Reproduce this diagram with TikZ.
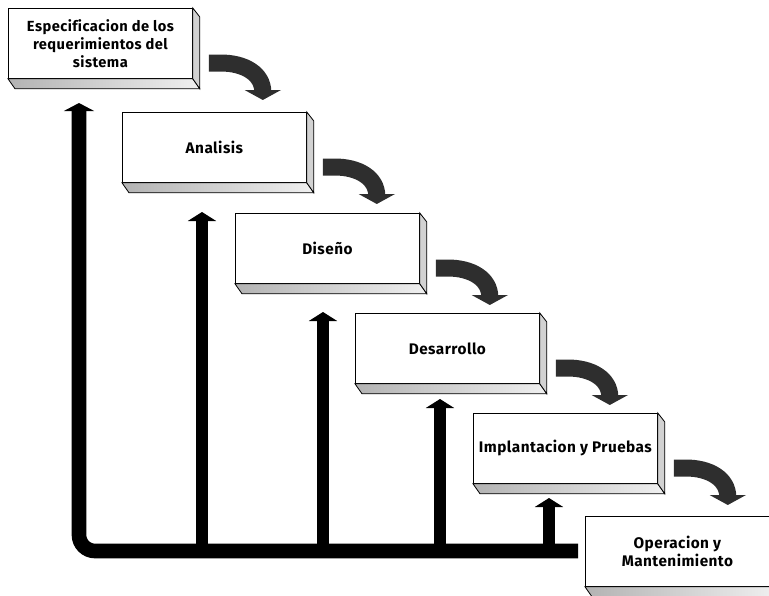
\documentclass[tikz,border=0pt]{standalone}
\usepackage{fontspec}
\setmainfont{Fira Sans}[Ligatures=CommonOff, LetterSpace=3]
\usetikzlibrary{arrows.meta,calc}
\tikzset{
  font=\bfseries\fontsize{11.5}{13}\selectfont,
  stage/.style={
    draw,
    fill=white,
    line width=0.6pt,
    align=center,
    anchor=north west,
    minimum width=138pt,
    minimum height=52.5pt,
    inner sep=2pt
  },
  bottomface/.style={draw, line width=0.6pt, left color=gray!60, right color=gray!12},
  sideface/.style={draw, line width=0.6pt, fill=gray!35},
  flow/.style={line width=12.75pt, draw=black!82, -{Triangle[width=27pt,length=7.5pt]}},
  back/.style={line width=9pt, -{Triangle[width=21pt,length=6.75pt]}},
  mainback/.style={line width=11pt, rounded corners=12pt, -{Triangle[width=22.5pt,length=6pt]}}
}

\begin{document}
\begin{tikzpicture}[x=0.75pt, y=-0.75pt]
\clip (0,0) rectangle (769,596);

% --- Stages (front faces)
\node[stage, font=\bfseries\fontsize{11}{13.5}\selectfont] (spec) at (8,8) {Especificacion de los\\requerimientos del\\sistema};
\node[stage] (anal) at (122,112) {Analisis};
\node[stage] (dise) at (235,213) {Diseño};
\node[stage] (desa) at (355,313) {Desarrollo};
\node[stage] (impl) at (473,413) {Implantacion y Pruebas};
\node[stage] (oper) at (585,516) {Operacion y\\Mantenimiento};

% --- Slab faces (bottom + right side)
\foreach \n in {spec,anal,dise,desa,impl,oper}{
  \draw[bottomface] (\n.south west) -- (\n.south east) -- ++(7,10) -- ($(\n.south west)+(7,10)$) -- cycle;
  \draw[sideface] (\n.north east) -- ++(7,9) -- ($(\n.south east)+(7,10)$) -- (\n.south east) -- cycle;
}

% --- Curved arrows between stages
\foreach \a in {spec,anal,dise,desa,impl}{
  \draw[flow] ($(\a.north east)+(16,55)$) -- ++(12,0)
    .. controls +(24,0) and +(0,-18) .. ($(\a.north east)+(70,84)$)
    -- ($(\a.north east)+(70,92)$);
}

% --- Feedback bar
\coordinate (barend) at (578,551);
\coordinate (barcorner) at (79,551);
\coordinate (tipspec) at (79,103);
\draw[mainback] (barend) -- (barcorner) -- (tipspec);

\coordinate (tipanal) at (202,212);
\coordinate (tipdise) at (323,312);
\coordinate (tipdesa) at (440,399);
\coordinate (tipimpl) at (549,498);
\foreach \t in {tipanal,tipdise,tipdesa,tipimpl}{
  \draw[back] (barend -| \t) -- (\t);
}

\end{tikzpicture}
\end{document}
